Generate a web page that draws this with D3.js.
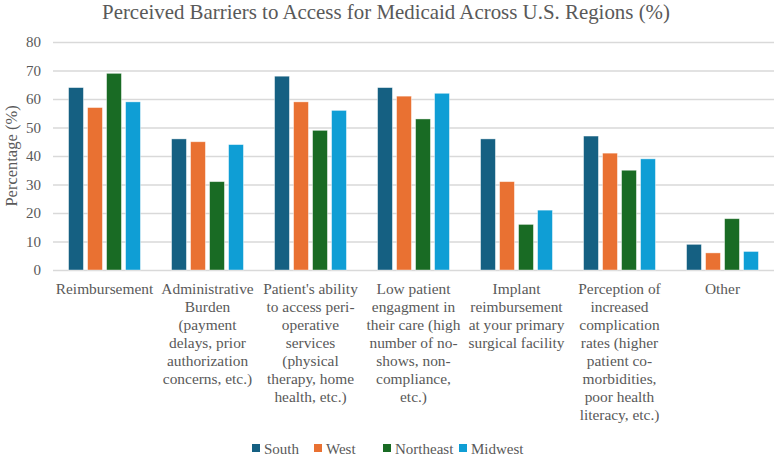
<!DOCTYPE html>
<html><head><meta charset="utf-8">
<script src="https://cdn.jsdelivr.net/npm/d3@7/dist/d3.min.js"></script>
<style>body{margin:0;background:#fff}svg{display:block}
svg text{font-family:"Liberation Serif","Times New Roman","DejaVu Serif",serif !important;}</style>
</head><body>
<svg id="c" width="776" height="459"></svg>
<script>
const categories = [
  ["Reimbursement"],
  ["Administrative","Burden","(payment","delays, prior","authorization","concerns, etc.)"],
  ["Patient's ability","to access peri-","operative","services","(physical","therapy, home","health, etc.)"],
  ["Low patient","engagment in","their care (high","number of no-","shows, non-","compliance,","etc.)"],
  ["Implant","reimbursement","at your primary","surgical facility"],
  ["Perception of","increased","complication","rates (higher","patient co-","morbidities,","poor health","literacy, etc.)"],
  ["Other"]
];
const seriesNames = ["South","West","Northeast","Midwest"];
const south = [64,46,68,64,46,47,9];
const west = [57,45,59,61,31,41,6];
const northeast = [69,31,49,53,16,35,18];
const midwest = [59,44,56,62,21,39,6.5];
const yTicks = [0,10,20,30,40,50,60,70,80];
const colors = ["#156082","#E97132","#196B24","#0F9ED5"];
const values = [south, west, northeast, midwest];

const svg = d3.select("#c");
const txt = "#595959";
const m = {l:53, r:2, t:42, b:189};
const W = 776, H = 459;
const x0 = d3.scaleBand().domain(d3.range(categories.length)).range([m.l, W-m.r]).paddingInner(0).paddingOuter(0);
const x1 = d3.scaleBand().domain(d3.range(seriesNames.length)).range([0, x0.bandwidth()]).paddingInner(0.22).paddingOuter(0.82);
const y = d3.scaleLinear().domain([0,80]).range([H-m.b, m.t]);

// title
svg.append("text").attr("x", 386).attr("y", 19).attr("text-anchor","middle")
  .attr("font-size", 20.9).attr("fill", txt)
  .text("Perceived Barriers to Access for Medicaid Across U.S. Regions (%)");

// grid
const yAxis = d3.axisLeft(y).tickValues(yTicks).tickSize(-(W-m.r-m.l)).tickPadding(12);
const gy = svg.append("g").attr("transform", `translate(${m.l},0)`).call(yAxis);
gy.select(".domain").remove();
gy.selectAll(".tick line").attr("stroke","#d9d9d9").attr("stroke-width",1.5);
gy.selectAll(".tick text").attr("font-size", 15).attr("fill", txt);

// bars
const g = svg.append("g");
categories.forEach((c, i) => {
  seriesNames.forEach((s, j) => {
    const v = values[j][i];
    g.append("rect")
      .attr("x", x0(i) + x1(j)).attr("width", x1.bandwidth())
      .attr("y", y(v)).attr("height", y(0) - y(v))
      .attr("fill", colors[j]).attr("stroke", "#ffffff").attr("stroke-opacity",0.5).attr("stroke-width", 0.8);
  });
});

// x labels
categories.forEach((lines, i) => {
  const t = svg.append("text").attr("text-anchor","middle")
    .attr("font-size", 15.4).attr("fill", txt);
  lines.forEach((ln, k) => {
    t.append("tspan").attr("x", x0(i) + x0.bandwidth()/2).attr("y", 294 + k*18).text(ln);
  });
});

// y title
svg.append("text").attr("transform", `translate(17,${(y(0)+y(80))/2}) rotate(-90)`)
  .attr("text-anchor","middle").attr("font-size", 16.5).attr("fill", txt)
  .text("Percentage (%)");

// legend
const legX = [252, 314, 383, 459];
seriesNames.forEach((s, j) => {
  svg.append("rect").attr("x", legX[j]).attr("y", 444).attr("width", 8).attr("height", 8).attr("fill", colors[j]);
  svg.append("text").attr("x", legX[j] + 12).attr("y", 454)
    .attr("font-size", 15).attr("fill", txt).text(s);
});
</script>
</body></html>
